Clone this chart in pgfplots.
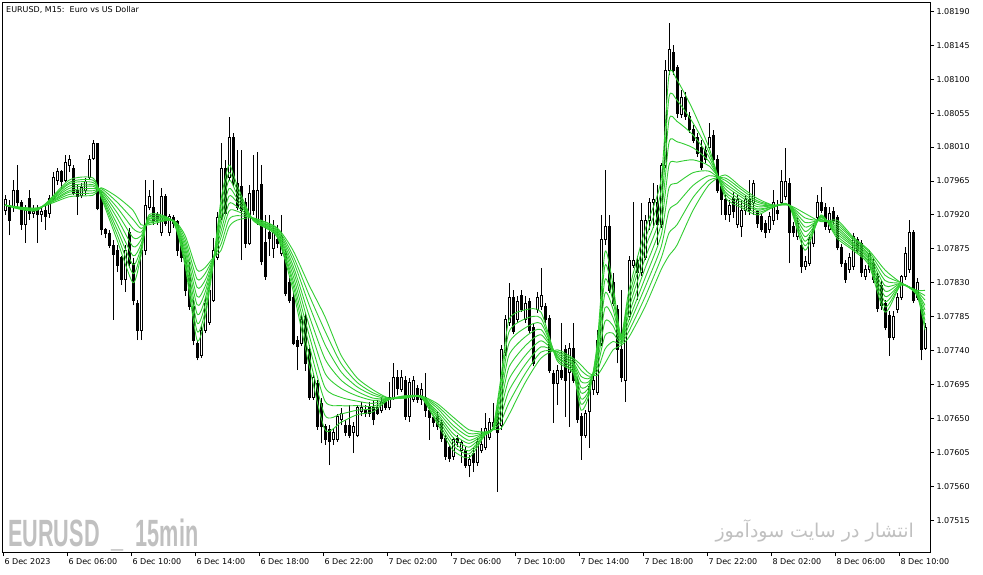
\documentclass[border=0pt]{standalone}
\usepackage{pgfplots}
\usepackage{pgfplotstable}
\pgfplotsset{compat=1.18}
\usepackage{fontspec}
\setmainfont{DejaVu Sans}
\newfontfamily\wmfont{Liberation Sans}
\newfontfamily\arabicfont[Script=Arabic]{DejaVu Sans}
\TeXXeTstate=1
\definecolor{maline}{RGB}{50,205,50}
\definecolor{wmgray}{RGB}{192,192,192}

% EURUSD M15 candles: bar index, open, high, low, close
\pgfplotstableread{
i o h l c
0 1.07926 1.07946 1.07920 1.07940
1 1.07933 1.07940 1.07893 1.07913
2 1.07930 1.07966 1.07924 1.07953
3 1.07953 1.07986 1.07929 1.07936
4 1.07936 1.07940 1.07900 1.07907
5 1.07907 1.07933 1.07883 1.07926
6 1.07942 1.07953 1.07913 1.07922
7 1.07922 1.07933 1.07916 1.07924
8 1.07926 1.07933 1.07883 1.07920
9 1.07920 1.07930 1.07911 1.07924
10 1.07926 1.07933 1.07900 1.07918
11 1.07922 1.07946 1.07916 1.07942
12 1.07942 1.07977 1.07940 1.07969
13 1.07966 1.07982 1.07960 1.07977
14 1.07977 1.07980 1.07955 1.07964
15 1.07966 1.08000 1.07964 1.07990
16 1.07986 1.07999 1.07977 1.07993
17 1.07982 1.07986 1.07946 1.07949
18 1.07953 1.07960 1.07920 1.07945
19 1.07946 1.07962 1.07942 1.07956
20 1.07953 1.07969 1.07946 1.07964
21 1.07970 1.07999 1.07966 1.07993
22 1.07995 1.08019 1.07993 1.08015
23 1.08015 1.08016 1.07926 1.07929
24 1.07946 1.07950 1.07893 1.07900
25 1.07900 1.07903 1.07889 1.07895
26 1.07895 1.07900 1.07876 1.07880
27 1.07880 1.07887 1.07781 1.07867
28 1.07873 1.07880 1.07844 1.07853
29 1.07863 1.07866 1.07827 1.07834
30 1.07834 1.07880 1.07818 1.07873
31 1.07897 1.07903 1.07850 1.07856
32 1.07856 1.07863 1.07800 1.07807
33 1.07803 1.07807 1.07754 1.07767
34 1.07767 1.07880 1.07754 1.07873
35 1.07873 1.07966 1.07867 1.07933
36 1.07930 1.07953 1.07926 1.07944
37 1.07930 1.07966 1.07907 1.07913
38 1.07920 1.07924 1.07907 1.07913
39 1.07896 1.07956 1.07892 1.07944
40 1.07944 1.07948 1.07905 1.07909
41 1.07896 1.07921 1.07892 1.07918
42 1.07916 1.07920 1.07903 1.07909
43 1.07911 1.07913 1.07866 1.07873
44 1.07882 1.07887 1.07858 1.07863
45 1.07860 1.07866 1.07813 1.07820
46 1.07840 1.07858 1.07794 1.07798
47 1.07798 1.07807 1.07747 1.07754
48 1.07750 1.07754 1.07727 1.07731
49 1.07734 1.07774 1.07730 1.07767
50 1.07767 1.07810 1.07763 1.07803
51 1.07777 1.07827 1.07774 1.07820
52 1.07807 1.07890 1.07805 1.07873
53 1.07864 1.07924 1.07860 1.07917
54 1.07917 1.08015 1.07913 1.07982
55 1.07982 1.07993 1.07920 1.07922
56 1.07970 1.08050 1.07966 1.08023
57 1.08023 1.08028 1.07957 1.07962
58 1.07962 1.08006 1.07926 1.07930
59 1.07957 1.08006 1.07860 1.07926
60 1.07936 1.07942 1.07876 1.07882
61 1.07882 1.07960 1.07880 1.07949
62 1.07953 1.07999 1.07920 1.07926
63 1.07913 1.08003 1.07907 1.07953
64 1.07960 1.07986 1.07853 1.07858
65 1.07884 1.07920 1.07834 1.07838
66 1.07896 1.07920 1.07866 1.07889
67 1.07876 1.07913 1.07863 1.07896
68 1.07887 1.07907 1.07876 1.07882
69 1.07869 1.07920 1.07866 1.07891
70 1.07869 1.07873 1.07812 1.07816
71 1.07830 1.07836 1.07803 1.07807
72 1.07811 1.07818 1.07747 1.07750
73 1.07754 1.07760 1.07714 1.07745
74 1.07750 1.07787 1.07746 1.07781
75 1.07785 1.07790 1.07713 1.07723
76 1.07741 1.07747 1.07675 1.07678
77 1.07678 1.07710 1.07675 1.07705
78 1.07697 1.07701 1.07635 1.07639
79 1.07670 1.07677 1.07617 1.07639
80 1.07639 1.07643 1.07615 1.07622
81 1.07635 1.07641 1.07588 1.07619
82 1.07622 1.07637 1.07615 1.07631
83 1.07622 1.07656 1.07619 1.07652
84 1.07648 1.07664 1.07641 1.07657
85 1.07641 1.07648 1.07627 1.07632
86 1.07641 1.07668 1.07624 1.07628
87 1.07631 1.07645 1.07604 1.07639
88 1.07628 1.07668 1.07625 1.07664
89 1.07659 1.07672 1.07653 1.07665
90 1.07661 1.07668 1.07652 1.07657
91 1.07664 1.07672 1.07652 1.07657
92 1.07665 1.07675 1.07641 1.07648
93 1.07665 1.07675 1.07655 1.07657
94 1.07661 1.07677 1.07657 1.07671
95 1.07672 1.07677 1.07661 1.07665
96 1.07665 1.07698 1.07661 1.07678
97 1.07677 1.07723 1.07675 1.07705
98 1.07704 1.07714 1.07681 1.07690
99 1.07688 1.07714 1.07685 1.07704
100 1.07701 1.07706 1.07648 1.07652
101 1.07652 1.07704 1.07645 1.07698
102 1.07675 1.07706 1.07672 1.07701
103 1.07690 1.07694 1.07671 1.07675
104 1.07675 1.07697 1.07668 1.07688
105 1.07678 1.07710 1.07652 1.07661
106 1.07661 1.07668 1.07622 1.07651
107 1.07651 1.07655 1.07639 1.07644
108 1.07652 1.07659 1.07635 1.07639
109 1.07644 1.07648 1.07619 1.07624
110 1.07624 1.07628 1.07595 1.07599
111 1.07611 1.07615 1.07592 1.07597
112 1.07599 1.07625 1.07595 1.07622
113 1.07624 1.07628 1.07612 1.07618
114 1.07608 1.07622 1.07591 1.07618
115 1.07608 1.07612 1.07584 1.07588
116 1.07588 1.07601 1.07572 1.07595
117 1.07604 1.07611 1.07579 1.07591
118 1.07591 1.07624 1.07587 1.07619
119 1.07608 1.07637 1.07604 1.07615
120 1.07612 1.07657 1.07608 1.07637
121 1.07625 1.07651 1.07622 1.07644
122 1.07639 1.07671 1.07635 1.07645
123 1.07657 1.07664 1.07553 1.07632
124 1.07641 1.07747 1.07635 1.07741
125 1.07737 1.07787 1.07733 1.07781
126 1.07777 1.07830 1.07773 1.07811
127 1.07811 1.07820 1.07762 1.07765
128 1.07781 1.07813 1.07777 1.07805
129 1.07813 1.07820 1.07791 1.07794
130 1.07781 1.07813 1.07777 1.07803
131 1.07805 1.07810 1.07763 1.07767
132 1.07771 1.07777 1.07719 1.07723
133 1.07794 1.07818 1.07790 1.07811
134 1.07798 1.07850 1.07794 1.07813
135 1.07798 1.07803 1.07777 1.07781
136 1.07783 1.07787 1.07710 1.07714
137 1.07710 1.07714 1.07644 1.07697
138 1.07697 1.07721 1.07668 1.07714
139 1.07714 1.07777 1.07701 1.07705
140 1.07741 1.07747 1.07652 1.07701
141 1.07711 1.07750 1.07639 1.07743
142 1.07743 1.07777 1.07697 1.07701
143 1.07701 1.07705 1.07644 1.07648
144 1.07652 1.07657 1.07595 1.07628
145 1.07628 1.07661 1.07624 1.07657
146 1.07659 1.07697 1.07611 1.07692
147 1.07688 1.07706 1.07681 1.07701
148 1.07685 1.07767 1.07681 1.07754
149 1.07750 1.07920 1.07746 1.07887
150 1.07887 1.07980 1.07880 1.07904
151 1.07904 1.07920 1.07816 1.07820
152 1.07830 1.07843 1.07799 1.07803
153 1.07794 1.07800 1.07723 1.07741
154 1.07741 1.07820 1.07698 1.07704
155 1.07701 1.07790 1.07672 1.07783
156 1.07785 1.07866 1.07781 1.07860
157 1.07853 1.07937 1.07850 1.07860
158 1.07860 1.07866 1.07807 1.07843
159 1.07843 1.07936 1.07839 1.07913
160 1.07864 1.07920 1.07860 1.07913
161 1.07913 1.07942 1.07900 1.07937
162 1.07936 1.07962 1.07903 1.07940
163 1.07937 1.07960 1.07880 1.07907
164 1.07907 1.07989 1.07903 1.07986
165 1.07986 1.08125 1.07982 1.08112
166 1.08112 1.08175 1.08105 1.08139
167 1.08136 1.08145 1.08105 1.08112
168 1.08115 1.08119 1.08049 1.08055
169 1.08053 1.08086 1.08049 1.08076
170 1.08076 1.08083 1.08046 1.08050
171 1.08050 1.08057 1.08029 1.08033
172 1.08033 1.08039 1.08015 1.08019
173 1.08023 1.08029 1.07997 1.08002
174 1.08009 1.08019 1.07980 1.07983
175 1.08006 1.08013 1.07989 1.07993
176 1.08010 1.08042 1.08006 1.08023
177 1.08025 1.08033 1.07986 1.07993
178 1.07993 1.07999 1.07949 1.07953
179 1.07957 1.07962 1.07920 1.07940
180 1.07940 1.07946 1.07913 1.07920
181 1.07920 1.07940 1.07911 1.07933
182 1.07942 1.07950 1.07916 1.07924
183 1.07907 1.07946 1.07903 1.07940
184 1.07904 1.07940 1.07891 1.07926
185 1.07926 1.07946 1.07920 1.07940
186 1.07940 1.07966 1.07920 1.07926
187 1.07936 1.07966 1.07920 1.07962
188 1.07924 1.07926 1.07903 1.07909
189 1.07918 1.07922 1.07897 1.07900
190 1.07909 1.07913 1.07889 1.07896
191 1.07900 1.07924 1.07896 1.07918
192 1.07913 1.07953 1.07907 1.07937
193 1.07926 1.07940 1.07913 1.07922
194 1.07937 1.07980 1.07933 1.07964
195 1.07944 1.08009 1.07940 1.07964
196 1.07962 1.07969 1.07856 1.07896
197 1.07904 1.07911 1.07891 1.07896
198 1.07891 1.07916 1.07887 1.07909
199 1.07880 1.07887 1.07843 1.07851
200 1.07851 1.07866 1.07847 1.07858
201 1.07856 1.07893 1.07852 1.07887
202 1.07882 1.07907 1.07878 1.07900
203 1.07917 1.07946 1.07913 1.07936
204 1.07936 1.07957 1.07922 1.07926
205 1.07930 1.07936 1.07900 1.07904
206 1.07900 1.07930 1.07896 1.07922
207 1.07924 1.07930 1.07907 1.07913
208 1.07916 1.07920 1.07873 1.07877
209 1.07877 1.07882 1.07851 1.07856
210 1.07856 1.07860 1.07830 1.07834
211 1.07847 1.07869 1.07843 1.07864
212 1.07851 1.07896 1.07847 1.07891
213 1.07887 1.07891 1.07869 1.07873
214 1.07882 1.07887 1.07838 1.07843
215 1.07838 1.07853 1.07834 1.07847
216 1.07847 1.07873 1.07843 1.07869
217 1.07856 1.07863 1.07830 1.07834
218 1.07838 1.07843 1.07791 1.07796
219 1.07827 1.07834 1.07794 1.07800
220 1.07803 1.07807 1.07767 1.07771
221 1.07787 1.07792 1.07733 1.07758
222 1.07758 1.07792 1.07754 1.07785
223 1.07794 1.07816 1.07790 1.07811
224 1.07811 1.07840 1.07807 1.07838
225 1.07838 1.07877 1.07834 1.07869
226 1.07847 1.07913 1.07843 1.07896
227 1.07896 1.07900 1.07803 1.07807
228 1.07811 1.07836 1.07807 1.07830
229 1.07794 1.07800 1.07727 1.07741
230 1.07743 1.07777 1.07741 1.07770
}\candles

% moving average ribbon, fastest (m0) to slowest (m8)
\pgfplotstableread{
i m0 m1 m2 m3 m4 m5 m6 m7 m8
0 1.07933 1.07933 1.07933 1.07933 1.07933 1.07933 1.07933 1.07933 1.07933
8 1.07926 1.07926 1.07927 1.07927 1.07928 1.07928 1.07928 1.07929 1.07929
16 1.07966 1.07963 1.07961 1.07958 1.07955 1.07952 1.07950 1.07947 1.07944
22 1.07969 1.07966 1.07963 1.07960 1.07958 1.07955 1.07952 1.07949 1.07946
24 1.07944 1.07946 1.07947 1.07949 1.07950 1.07952 1.07953 1.07955 1.07956
28 1.07887 1.07894 1.07901 1.07908 1.07916 1.07923 1.07930 1.07937 1.07944
32 1.07830 1.07842 1.07854 1.07866 1.07878 1.07890 1.07902 1.07914 1.07926
34 1.07866 1.07871 1.07876 1.07881 1.07887 1.07892 1.07897 1.07902 1.07907
36 1.07920 1.07918 1.07917 1.07915 1.07914 1.07912 1.07910 1.07909 1.07907
42 1.07911 1.07911 1.07912 1.07912 1.07912 1.07912 1.07912 1.07913 1.07913
45 1.07853 1.07858 1.07863 1.07868 1.07873 1.07878 1.07883 1.07888 1.07893
48 1.07754 1.07766 1.07777 1.07789 1.07801 1.07812 1.07824 1.07835 1.07847
50 1.07783 1.07791 1.07800 1.07808 1.07817 1.07825 1.07833 1.07842 1.07850
52 1.07853 1.07854 1.07856 1.07857 1.07858 1.07859 1.07861 1.07862 1.07863
54 1.07940 1.07932 1.07923 1.07915 1.07907 1.07898 1.07890 1.07881 1.07873
56 1.07986 1.07976 1.07966 1.07955 1.07945 1.07935 1.07925 1.07914 1.07904
58 1.07960 1.07954 1.07948 1.07942 1.07937 1.07931 1.07925 1.07919 1.07913
62 1.07913 1.07913 1.07914 1.07914 1.07915 1.07915 1.07915 1.07916 1.07916
68 1.07891 1.07893 1.07894 1.07896 1.07897 1.07899 1.07900 1.07902 1.07903
72 1.07820 1.07827 1.07833 1.07840 1.07847 1.07853 1.07860 1.07866 1.07873
76 1.07721 1.07734 1.07748 1.07761 1.07774 1.07787 1.07801 1.07814 1.07827
80 1.07635 1.07654 1.07673 1.07691 1.07710 1.07729 1.07748 1.07766 1.07785
84 1.07645 1.07656 1.07667 1.07678 1.07690 1.07701 1.07712 1.07723 1.07734
88 1.07655 1.07661 1.07667 1.07673 1.07680 1.07686 1.07692 1.07698 1.07704
92 1.07659 1.07663 1.07666 1.07670 1.07674 1.07677 1.07681 1.07684 1.07688
96 1.07675 1.07675 1.07676 1.07676 1.07676 1.07676 1.07676 1.07677 1.07677
100 1.07677 1.07677 1.07678 1.07678 1.07679 1.07679 1.07679 1.07680 1.07680
104 1.07678 1.07678 1.07679 1.07679 1.07679 1.07679 1.07679 1.07680 1.07680
108 1.07644 1.07647 1.07651 1.07654 1.07657 1.07660 1.07664 1.07667 1.07670
112 1.07608 1.07614 1.07619 1.07625 1.07630 1.07636 1.07641 1.07647 1.07652
116 1.07598 1.07603 1.07607 1.07612 1.07617 1.07621 1.07626 1.07630 1.07635
120 1.07628 1.07629 1.07629 1.07630 1.07630 1.07631 1.07631 1.07632 1.07632
122 1.07637 1.07637 1.07637 1.07636 1.07636 1.07636 1.07636 1.07635 1.07635
124 1.07705 1.07697 1.07688 1.07680 1.07671 1.07663 1.07654 1.07646 1.07637
126 1.07781 1.07765 1.07750 1.07734 1.07718 1.07702 1.07687 1.07671 1.07655
130 1.07794 1.07782 1.07770 1.07758 1.07746 1.07733 1.07721 1.07709 1.07697
134 1.07791 1.07783 1.07776 1.07768 1.07761 1.07753 1.07745 1.07738 1.07730
138 1.07727 1.07729 1.07731 1.07732 1.07734 1.07736 1.07738 1.07739 1.07741
142 1.07711 1.07713 1.07716 1.07718 1.07721 1.07723 1.07725 1.07728 1.07730
144 1.07661 1.07669 1.07676 1.07684 1.07691 1.07699 1.07706 1.07714 1.07721
146 1.07681 1.07685 1.07688 1.07692 1.07696 1.07699 1.07703 1.07706 1.07710
148 1.07747 1.07742 1.07737 1.07732 1.07727 1.07722 1.07717 1.07712 1.07707
150 1.07871 1.07853 1.07834 1.07816 1.07797 1.07779 1.07760 1.07742 1.07723
152 1.07827 1.07816 1.07806 1.07795 1.07784 1.07773 1.07763 1.07752 1.07741
154 1.07760 1.07758 1.07757 1.07755 1.07754 1.07752 1.07750 1.07749 1.07747
156 1.07820 1.07812 1.07805 1.07797 1.07789 1.07781 1.07774 1.07766 1.07758
160 1.07900 1.07887 1.07875 1.07862 1.07849 1.07836 1.07824 1.07811 1.07798
164 1.07966 1.07951 1.07936 1.07921 1.07907 1.07892 1.07877 1.07862 1.07847
166 1.08106 1.08076 1.08046 1.08016 1.07986 1.07956 1.07926 1.07896 1.07866
168 1.08099 1.08072 1.08044 1.08017 1.07990 1.07962 1.07935 1.07907 1.07880
172 1.08059 1.08042 1.08026 1.08009 1.07993 1.07976 1.07959 1.07943 1.07926
176 1.08009 1.08003 1.07997 1.07991 1.07985 1.07978 1.07972 1.07966 1.07960
180 1.07944 1.07948 1.07951 1.07955 1.07959 1.07962 1.07966 1.07969 1.07973
184 1.07930 1.07933 1.07937 1.07940 1.07944 1.07947 1.07950 1.07954 1.07957
188 1.07920 1.07923 1.07926 1.07928 1.07931 1.07934 1.07937 1.07939 1.07942
192 1.07930 1.07930 1.07931 1.07931 1.07932 1.07932 1.07932 1.07933 1.07933
196 1.07933 1.07933 1.07933 1.07933 1.07933 1.07933 1.07933 1.07933 1.07933
200 1.07873 1.07879 1.07885 1.07891 1.07898 1.07904 1.07910 1.07916 1.07922
204 1.07920 1.07919 1.07918 1.07917 1.07916 1.07914 1.07913 1.07912 1.07911
208 1.07889 1.07892 1.07895 1.07898 1.07901 1.07904 1.07907 1.07910 1.07913
212 1.07873 1.07875 1.07878 1.07880 1.07882 1.07884 1.07887 1.07889 1.07891
216 1.07853 1.07856 1.07858 1.07861 1.07863 1.07866 1.07868 1.07871 1.07873
220 1.07791 1.07798 1.07805 1.07812 1.07819 1.07826 1.07833 1.07840 1.07847
224 1.07827 1.07827 1.07828 1.07828 1.07829 1.07829 1.07829 1.07830 1.07830
228 1.07813 1.07814 1.07815 1.07816 1.07817 1.07817 1.07818 1.07819 1.07820
230 1.07767 1.07774 1.07780 1.07787 1.07794 1.07800 1.07807 1.07813 1.07820
}\ribbon

\begin{document}
\begin{tikzpicture}
\useasboundingbox (0pt,0pt) rectangle (983pt,574pt);
\begin{axis}[
    at={(2.5pt,22pt)}, anchor=south west,
    scale only axis,
    width=927.5pt, height=549.5pt,
    xmin=-0.625, xmax=231.25,
    ymin=1.074729, ymax=1.082017,
    axis line style={black, line width=0.9pt},
    tick style={black, line width=0.9pt},
    tick align=outside,
    major tick length=4pt,
    xtick pos=left,
    ytick pos=right,
    xtick={-0.5,15.5,31.5,47.5,63.5,79.5,95.5,111.5,127.5,143.5,159.5,175.5,191.5,207.5,223.5},
    xticklabels={6 Dec 2023,6 Dec 06:00,6 Dec 10:00,6 Dec 14:00,6 Dec 18:00,6 Dec 22:00,
        7 Dec 02:00,7 Dec 06:00,7 Dec 10:00,7 Dec 14:00,7 Dec 18:00,7 Dec 22:00,
        8 Dec 02:00,8 Dec 06:00,8 Dec 10:00},
    ytick={1.07515,1.07560,1.07605,1.07650,1.07695,1.07740,1.07785,1.07830,
        1.07875,1.07920,1.07965,1.08010,1.08055,1.08100,1.08145,1.08190},
    scaled y ticks=false,
    yticklabel style={/pgf/number format/fixed, /pgf/number format/fixed zerofill,
        /pgf/number format/precision=5, /pgf/number format/assume math mode=true,
        anchor=west, xshift=-1pt},
    ticklabel style={font=\fontsize{8}{9.6}\selectfont, text=black},
    xticklabel style={anchor=north west, xshift=-2pt, yshift=1pt},
    clip=true,
]

% candles
\pgfplotsforeachungrouped \k in {0,...,230}{%
    \pgfplotstablegetelem{\k}{o}\of\candles \let\vo=\pgfplotsretval
    \pgfplotstablegetelem{\k}{h}\of\candles \let\vh=\pgfplotsretval
    \pgfplotstablegetelem{\k}{l}\of\candles \let\vl=\pgfplotsretval
    \pgfplotstablegetelem{\k}{c}\of\candles \let\vc=\pgfplotsretval
    \ifdim\vc pt<\vo pt \def\bodyfill{black}\else\def\bodyfill{white}\fi
    \pgfmathsetmacro\xa{\k-0.25}%
    \pgfmathsetmacro\xb{\k+0.25}%
    \edef\tmp{%
        \noexpand\draw[black, line width=1pt] (axis cs:\k,\vl) -- (axis cs:\k,\vh);
        \noexpand\filldraw[draw=black, fill=\bodyfill, line width=1pt]
            (axis cs:\xa,\vo) rectangle (axis cs:\xb,\vc);
    }\tmp
}

% moving average ribbon
\pgfplotsinvokeforeach{m0,m1,m2,m3,m4,m5,m6,m7,m8}{
    \addplot[maline, line width=0.9pt, smooth, tension=0.4] table[x=i, y=#1] {\ribbon};
}

\end{axis}

% title and watermarks
\node[anchor=base west, font=\fontsize{8}{9.6}\selectfont, inner sep=0pt]
    at (6pt,561.5pt) {EURUSD, M15:\ \ Euro vs US Dollar};
\node[anchor=base west, inner sep=0pt, text=wmgray]
    at (8pt,28pt) {\scalebox{0.57}[1]{\wmfont\bfseries\fontsize{38}{38}\selectfont EURUSD\ \ \_\ \ 15min}};
\node[anchor=base east, inner sep=0pt, text=wmgray]
    at (914pt,37pt) {\arabicfont\fontsize{19}{19}\selectfont\beginR انتشار در سایت سودآموز\endR};
\end{tikzpicture}
\end{document}
